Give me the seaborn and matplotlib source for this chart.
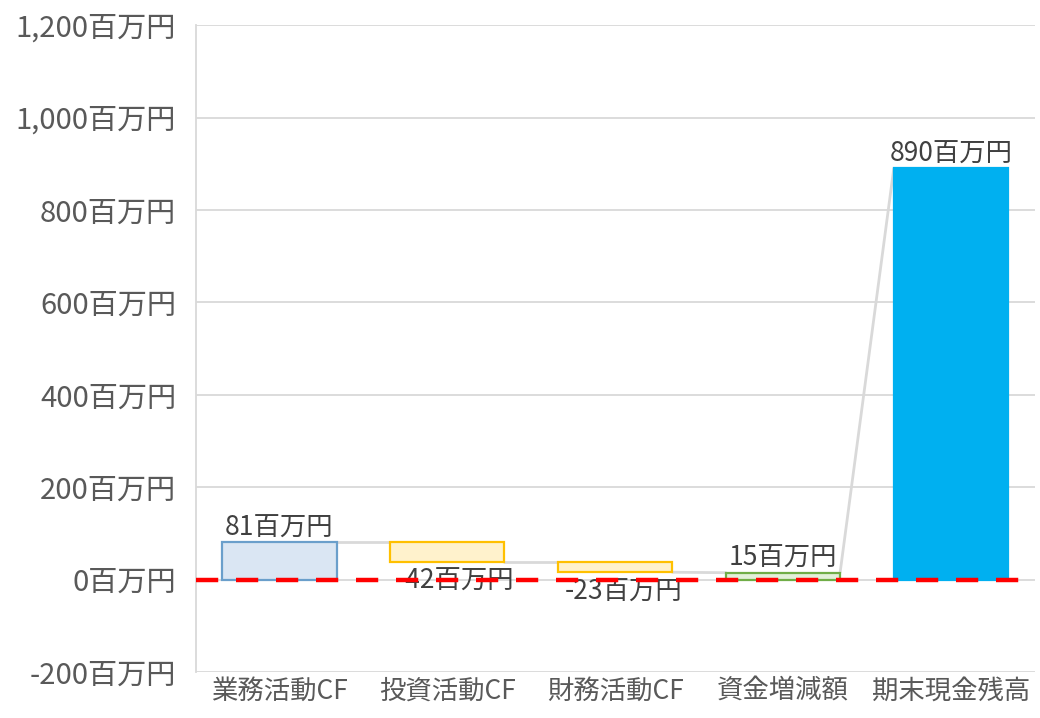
import matplotlib

matplotlib.use("Agg")

import matplotlib.pyplot as plt
import seaborn as sns

# waterfall data (百万円)
categories = ["業務活動CF", "投資活動CF", "財務活動CF", "資金増減額", "期末現金残高"]
values = [81, -42, -23, 15, 890]
is_total = [False, False, False, True, True]
fill_colors = ["#DAE6F3", "#FFF2CC", "#FFF2CC", "#E2F0D9", "#00B0F0"]
edge_colors = ["#6A9FCB", "#FFC000", "#FFC000", "#70AD47", "#00B0F0"]
y_ticks = [-200, 0, 200, 400, 600, 800, 1000, 1200]


def main() -> None:
    sns.set_theme(style="white")
    plt.rcParams["font.family"] = ["Noto Sans CJK JP", "DejaVu Sans"]

    # work out floating bar bottoms / tops
    bottoms, tops = [], []
    running = 0
    for v, total in zip(values, is_total):
        if total:
            lo, hi = 0, v
            running = v
        else:
            start = running
            running = running + v
            lo, hi = min(start, running), max(start, running)
        bottoms.append(lo)
        tops.append(hi)
    ends = [t if v >= 0 else b for v, b, t in zip(values, bottoms, tops)]
    heights = [t - b for b, t in zip(bottoms, tops)]

    fig = plt.figure(figsize=(10.4, 7.18), dpi=100)
    ax = fig.add_axes([0.188, 0.064, 0.807, 0.901])

    width = 0.68
    sns.barplot(
        x=categories,
        y=heights,
        hue=categories,
        palette=fill_colors,
        saturation=1,
        legend=False,
        width=width,
        ax=ax,
        zorder=2,
    )
    for patch, b, ec in zip(ax.patches, bottoms, edge_colors):
        patch.set_y(b)
        patch.set_edgecolor(ec)
        patch.set_linewidth(1.6)

    # connector lines between bars
    for i in range(len(values) - 1):
        ax.plot(
            [i + width / 2, i + 1 - width / 2],
            [ends[i], tops[i + 1]],
            color="#D9D9D9",
            lw=2,
            zorder=1,
        )

    # zero line
    ax.axhline(0, color="#FF0000", lw=3.2, ls=(0, (5, 4)), zorder=4)

    # data labels
    for i, (v, b, t) in enumerate(zip(values, bottoms, tops)):
        if v >= 0:
            ax.text(i, t + 2, f"{v}百万円", ha="center", va="bottom",
                    fontsize=19, color="#404040", zorder=5)
        else:
            ax.text(i + 0.05, b - 14, f"{v}百万円", ha="center", va="top",
                    fontsize=19, color="#404040", zorder=3)

    ax.set_ylim(-200, 1200)
    ax.set_xlim(-0.5, len(categories) - 0.5)
    ax.set_yticks(y_ticks)
    ax.set_yticklabels([f"{t:,}百万円" for t in y_ticks])
    ax.yaxis.grid(True, color="#D9D9D9", lw=1.3)
    ax.set_axisbelow(True)
    ax.tick_params(axis="y", labelsize=21, labelcolor="#595959", length=0, pad=14)
    ax.tick_params(axis="x", labelsize=19, labelcolor="#595959", length=0, pad=4)
    for side in ["top", "right", "bottom"]:
        ax.spines[side].set_visible(False)
    ax.spines["left"].set_color("#D9D9D9")
    ax.spines["left"].set_linewidth(1.3)

    fig.savefig("out.png", dpi=100)
    plt.close(fig)


if __name__ == "__main__":
    main()
